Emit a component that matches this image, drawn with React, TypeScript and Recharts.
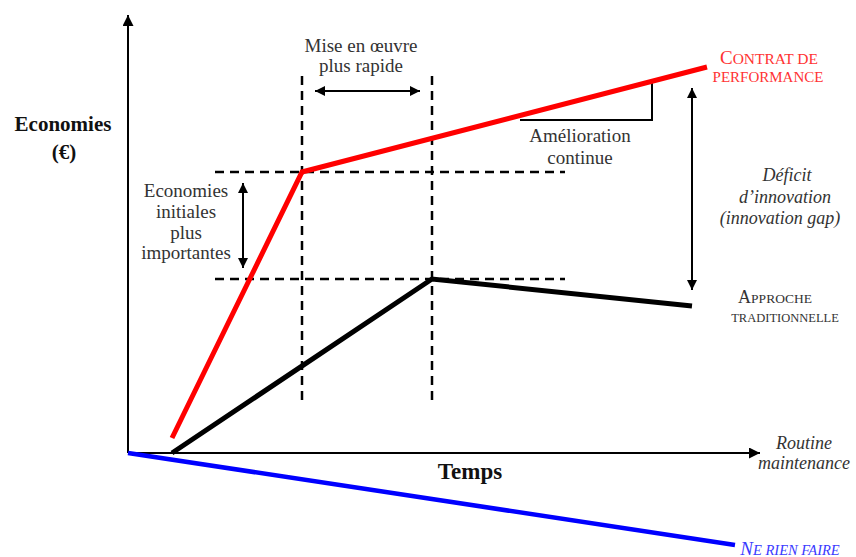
import React from "react";
import { LineChart, Line, XAxis, YAxis } from "recharts";

// Conceptual diagram: arbitrary units, origin at the axes intersection
const contratX = [44, 174, 579];
const contratY = [15, 281, 386];
const tradX = [44, 304, 564];
const tradY = [0, 174, 147];
const rienX = [0, 607];
const rienY = [0, -92];

const toPts = (xs: number[], ys: number[]) => xs.map((x, i) => ({ x, y: ys[i] }));

const contrat = toPts(contratX, contratY);
const trad = toPts(tradX, tradY);
const rien = toPts(rienX, rienY);

// axes
const yAxisLine = toPts([0, 0], [0, 438]);
const xAxisLine = toPts([0, 632], [0, 0]);

// guide lines (dashed)
const vGuide1 = toPts([174, 174], [53, 383]);
const vGuide2 = toPts([304, 304], [53, 383]);
const hGuide1 = toPts([87, 437], [281, 281]);
const hGuide2 = toPts([87, 437], [174, 174]);

// double arrows
const arrowMise = toPts([187, 292], [362, 362]);
const arrowInit = toPts([115, 115], [270, 185]);
const arrowDeficit = toPts([564, 564], [365, 163]);

// amélioration continue triangle
const ameliorTri = toPts([392, 524, 524], [333, 333, 372]);

const W = 856;
const H = 557;

const serif = "Liberation Serif";

type Lbl = { t: React.ReactNode; x: number; y: number; s?: React.CSSProperties };

const big = (ch: string, size: number) => <span style={{ fontSize: size }}>{ch}</span>;

const labels: Lbl[] = [
  { t: "Economies", x: 63, y: 124, s: { fontWeight: "bold", fontSize: 21, color: "#111" } },
  { t: "(€)", x: 64, y: 152, s: { fontWeight: "bold", fontSize: 21, color: "#111" } },
  { t: "Temps", x: 470, y: 471, s: { fontWeight: "bold", fontSize: 23, color: "#111" } },
  { t: "Mise en œuvre", x: 361, y: 45 },
  { t: "plus rapide", x: 361, y: 65 },
  { t: "Amélioration", x: 580, y: 135 },
  { t: "continue", x: 580, y: 157 },
  { t: "Economies", x: 186, y: 190 },
  { t: "initiales", x: 186, y: 211 },
  { t: "plus", x: 186, y: 232 },
  { t: "importantes", x: 186, y: 252 },
  { t: "Déficit", x: 787, y: 175, s: { fontStyle: "italic", fontSize: 18 } },
  { t: "d’innovation", x: 785, y: 197, s: { fontStyle: "italic", fontSize: 18 } },
  { t: "(innovation gap)", x: 780, y: 218, s: { fontStyle: "italic", fontSize: 18 } },
  { t: <>{big("A", 18)}PPROCHE</>, x: 775, y: 297, s: { fontSize: 13.5 } },
  { t: "TRADITIONNELLE", x: 785, y: 318, s: { fontSize: 12.5 } },
  { t: "Routine", x: 804, y: 443, s: { fontStyle: "italic", fontSize: 18 } },
  { t: "maintenance", x: 804, y: 463, s: { fontStyle: "italic", fontSize: 18 } },
  { t: <>{big("C", 19)}ONTRAT DE</>, x: 769, y: 57, s: { fontSize: 15.5, color: "#ff3333" } },
  { t: "PERFORMANCE", x: 768, y: 77, s: { fontSize: 15, color: "#ff3333" } },
  { t: <>{big("N", 19)}E RIEN FAIRE</>, x: 790, y: 548, s: { fontStyle: "italic", fontSize: 14.5, color: "#3a3aff" } },
];

const seg = (data: { x: number; y: number }[], props: any, key: string) => (
  <Line
    key={key}
    data={data}
    dataKey="y"
    type="linear"
    dot={false}
    activeDot={false}
    isAnimationActive={false}
    legendType="none"
    {...props}
  />
);

export default function App() {
  return (
    <div style={{ position: "absolute", left: 0, top: 0, width: W, height: H, background: "#fff", fontFamily: serif }}>
      <LineChart width={W} height={H} margin={{ top: 0, right: 0, bottom: 0, left: 0 }}>
        <defs>
          <marker id="arr" viewBox="0 0 10 10" refX="10" refY="5" markerWidth="10" markerHeight="10" markerUnits="userSpaceOnUse" orient="auto-start-reverse">
            <path d="M0,0 L10,5 L0,10 z" fill="#000" />
          </marker>
          <marker id="arrBig" viewBox="0 0 10 10" refX="10" refY="5" markerWidth="13" markerHeight="11" markerUnits="userSpaceOnUse" orient="auto-start-reverse">
            <path d="M0,0 L10,5 L0,10 z" fill="#000" />
          </marker>
        </defs>
        <XAxis type="number" dataKey="x" domain={[-128, 728]} hide allowDataOverflow />
        <YAxis type="number" domain={[-104, 453]} hide allowDataOverflow />
        {seg(yAxisLine, { stroke: "#000", strokeWidth: 2, markerEnd: "url(#arrBig)" }, "ya")}
        {seg(xAxisLine, { stroke: "#000", strokeWidth: 2, markerEnd: "url(#arrBig)" }, "xa")}
        {seg(vGuide1, { stroke: "#000", strokeWidth: 2.5, strokeDasharray: "9 6" }, "v1")}
        {seg(vGuide2, { stroke: "#000", strokeWidth: 2.5, strokeDasharray: "9 6" }, "v2")}
        {seg(hGuide1, { stroke: "#000", strokeWidth: 2.5, strokeDasharray: "9 6" }, "h1")}
        {seg(hGuide2, { stroke: "#000", strokeWidth: 2.5, strokeDasharray: "9 6" }, "h2")}
        {seg(arrowMise, { stroke: "#000", strokeWidth: 2, markerStart: "url(#arr)", markerEnd: "url(#arr)" }, "am")}
        {seg(arrowInit, { stroke: "#000", strokeWidth: 2, markerStart: "url(#arr)", markerEnd: "url(#arr)" }, "ai")}
        {seg(arrowDeficit, { stroke: "#000", strokeWidth: 2, markerStart: "url(#arr)", markerEnd: "url(#arr)" }, "ad")}
        {seg(ameliorTri, { stroke: "#000", strokeWidth: 2 }, "tri")}
        {seg(rien, { stroke: "#0000ff", strokeWidth: 4.5 }, "rien")}
        {seg(trad, { stroke: "#000", strokeWidth: 5, strokeLinejoin: "miter" }, "trad")}
        {seg(contrat, { stroke: "#ff0000", strokeWidth: 5, strokeLinejoin: "miter" }, "contrat")}
      </LineChart>
      {labels.map((l, i) => (
        <div
          key={i}
          style={{
            position: "absolute",
            left: l.x,
            top: l.y,
            transform: "translate(-50%, -50%)",
            whiteSpace: "nowrap",
            lineHeight: 1,
            fontSize: 19,
            color: "#333",
            fontFamily: serif,
            ...l.s,
          }}
        >
          {l.t}
        </div>
      ))}
    </div>
  );
}
